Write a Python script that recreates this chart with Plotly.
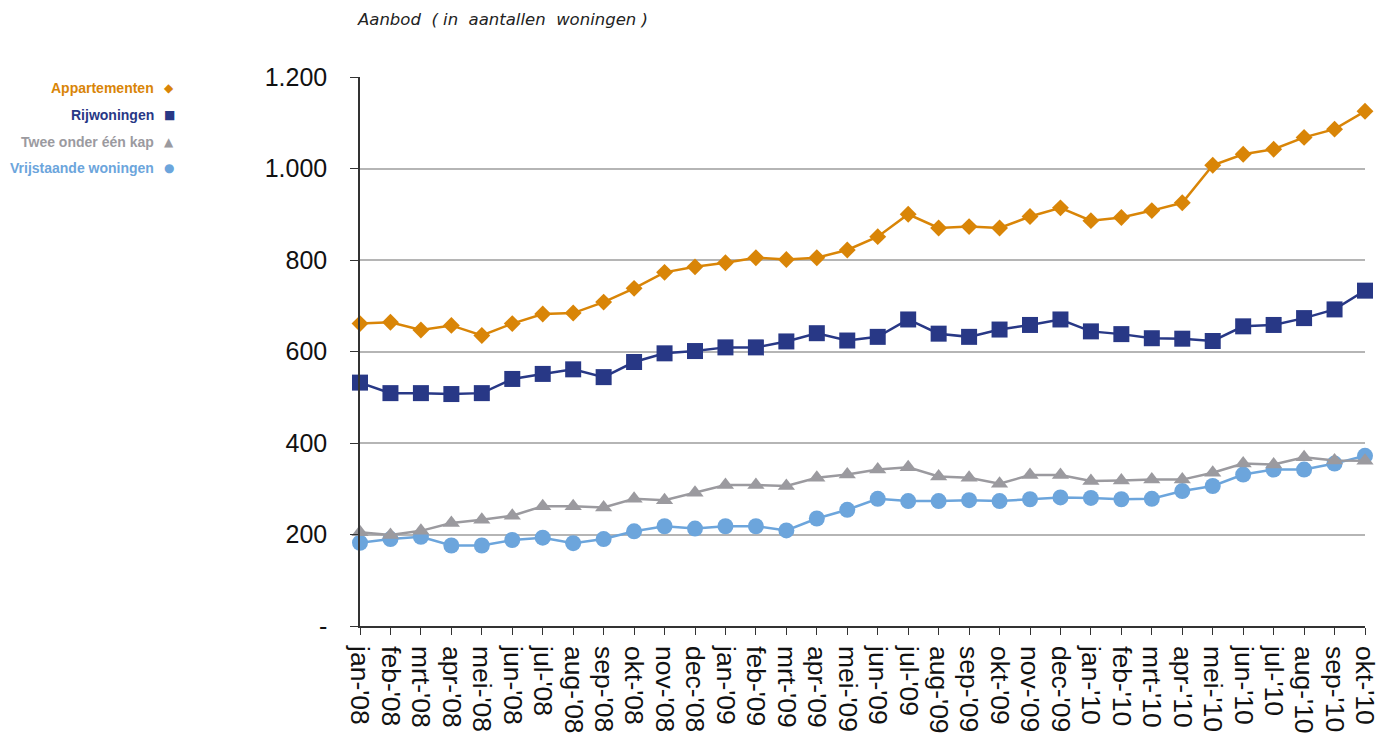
import plotly.graph_objects as go

# Maandlabels (jan 2008 t/m okt 2010)
months = [
    "jan-'08", "feb-'08", "mrt-'08", "apr-'08", "mei-'08", "jun-'08", "jul-'08", "aug-'08",
    "sep-'08", "okt-'08", "nov-'08", "dec-'08",
    "jan-'09", "feb-'09", "mrt-'09", "apr-'09", "mei-'09", "jun-'09", "jul-'09", "aug-'09",
    "sep-'09", "okt-'09", "nov-'09", "dec-'09",
    "jan-'10", "feb-'10", "mrt-'10", "apr-'10", "mei-'10", "jun-'10", "jul-'10", "aug-'10",
    "sep-'10", "okt-'10",
]

appartementen = [661, 664, 647, 657, 635, 661, 682, 684, 708, 738, 773, 785,
                 794, 805, 801, 805, 822, 851, 900, 870, 873, 870, 895, 914,
                 886, 893, 908, 925, 1007, 1031, 1042, 1068, 1086, 1125]

rijwoningen = [532, 509, 509, 507, 509, 540, 551, 561, 544, 577, 596, 601,
               609, 609, 622, 640, 624, 632, 670, 639, 632, 648, 658, 670,
               644, 638, 629, 628, 623, 655, 658, 673, 692, 733]

twee_onder_een_kap = [205, 199, 208, 225, 232, 241, 262, 262, 259, 278, 275, 291,
                      308, 308, 306, 324, 331, 342, 347, 327, 324, 311, 330, 330,
                      317, 318, 320, 320, 335, 355, 353, 369, 362, 361]

vrijstaande = [182, 190, 195, 176, 176, 188, 193, 181, 190, 207, 218, 213,
               218, 218, 209, 235, 254, 278, 273, 273, 275, 273, 277, 281,
               280, 277, 278, 295, 306, 331, 342, 342, 355, 372]

y_ticks = [0, 200, 400, 600, 800, 1000, 1200]
y_ticktext = ["-", "200", "400", "600", "800", "1.000", "1.200"]

series = [
    ("Appartementen", appartementen, "#D98507", "diamond", 13, "\u25C6"),
    ("Rijwoningen", rijwoningen, "#283886", "square", 16, "\u25A0"),
    ("Twee onder één kap", twee_onder_een_kap, "#9B9A9F", "triangle-up", 15, "\u25B2"),
    ("Vrijstaande woningen", vrijstaande, "#6CA5DC", "circle", 16, "\u25CF"),
]

idx = list(range(len(months)))

fig = go.Figure()
for name, vals, color, symbol, size, _ in reversed(series):
    fig.add_trace(go.Scatter(
        x=idx, y=vals, name=name, mode="lines+markers",
        line=dict(color=color, width=2.5),
        marker=dict(symbol=symbol, size=size, color=color, line=dict(width=0)),
        cliponaxis=False, showlegend=False,
    ))

# Legend drawn as right-aligned labels with the marker glyph after the text
legend_y = [0.980, 0.931, 0.882, 0.834]
for (name, vals, color, symbol, size, glyph), ly in zip(series, legend_y):
    fig.add_annotation(
        xref="paper", yref="paper", x=-0.203, y=ly, xanchor="right", yanchor="middle",
        text=f"<b>{name}</b>", showarrow=False,
        font=dict(family="Liberation Sans, Arial", size=14, color=color),
    )
    fig.add_annotation(
        xref="paper", yref="paper", x=-0.190, y=ly, xanchor="center", yanchor="middle",
        text=glyph, showarrow=False,
        font=dict(family="DejaVu Sans", size=12, color=color),
    )

fig.add_annotation(
    xref="paper", yref="paper", x=-0.005, y=1.105, xanchor="left", yanchor="middle",
    text="<i>Aanbod\u00a0\u00a0(\u00a0in\u00a0\u00a0aantallen\u00a0\u00a0woningen\u00a0)</i>",
    showarrow=False,
    font=dict(family="DejaVu Sans", size=16.5, color="#222222"),
)

fig.update_layout(
    width=1390, height=745,
    margin=dict(l=360, r=25, t=77, b=119),
    paper_bgcolor="white", plot_bgcolor="white",
    xaxis=dict(
        range=[0, 33], tickmode="array", tickvals=idx, ticktext=months,
        tickangle=90, showgrid=False, zeroline=False,
        showline=True, linecolor="#333333", linewidth=1.5,
        ticks="outside", ticklen=7, tickcolor="#333333",
        ticklabelstandoff=6,
        tickfont=dict(family="Liberation Sans, Arial", size=26.5, color="#111111"),
        automargin=False,
    ),
    yaxis=dict(
        range=[0, 1200], tickmode="array", tickvals=y_ticks, ticktext=y_ticktext,
        showgrid=True, gridcolor="#B5B5B5", gridwidth=1.5, zeroline=False,
        showline=True, linecolor="#333333", linewidth=1.5,
        ticks="outside", ticklen=8, tickcolor="#333333",
        ticklabelstandoff=18,
        tickfont=dict(family="Liberation Sans, Arial", size=25, color="#111111"),
        automargin=False,
    ),
)

fig.write_html("out.html")
